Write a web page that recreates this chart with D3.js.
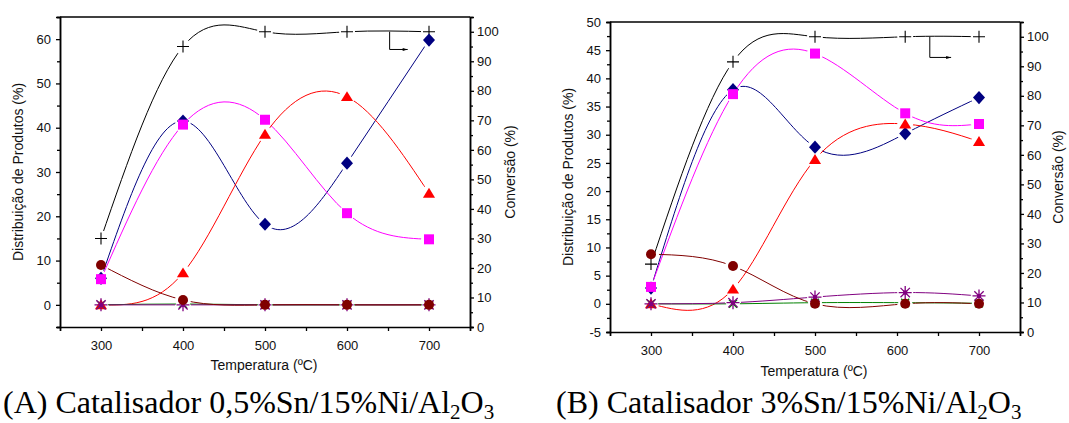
<!DOCTYPE html>
<html>
<head>
<meta charset="utf-8">
<script src="https://cdn.jsdelivr.net/npm/d3@7"></script>
<style>
  html, body { margin: 0; padding: 0; background: #fff; }
  svg { display: block; }
  text { font-family: "Liberation Sans", Arial, sans-serif; fill: #111; }
  .cap { font-family: "Liberation Serif", "Times New Roman", serif; fill: #000; }
</style>
</head>
<body>
<svg id="fig" width="1069" height="423"></svg>
<script>
// ---- Panel A: 0,5%Sn/15%Ni/Al2O3 ----
const tempA      = [300, 400, 500, 600, 700];
const convA      = [30, 95, 100, 100, 100];        // Conversão (%)
const diamondA   = [6, 41.5, 18.2, 32, 59.8];
const squareA    = [5.8, 40.7, 41.8, 20.7, 14.8];
const triangleA  = [0, 7.2, 38.5, 47, 25.2];
const circleA    = [9, 1.1, 0, 0, 0];
const greenA     = [0, 0.2, 0, 0, 0];
const asteriskA  = [0, 0, 0, 0, 0];

// ---- Panel B: 3%Sn/15%Ni/Al2O3 ----
const tempB      = [300, 400, 500, 610, 700];
const convB      = [23, 91.5, 100, 100, 100];
const diamondB   = [2.8, 38, 27.8, 30.2, 36.6];
const squareB    = [3, 37.2, 44.4, 33.8, 31.9];
const triangleB  = [0, 2.6, 25.6, 31.9, 28.8];
const circleB    = [8.8, 6.7, 0, 0, 0];
const greenB     = [0, 0, 0.2, 0.2, 0.1];
const asteriskB  = [0, 0.2, 1.2, 2.0, 1.4];

// axis ticks
const xTickLabels   = [300, 400, 500, 600, 700];
const yTicksA       = [0, 10, 20, 30, 40, 50, 60];
const yTicksB       = [-5, 0, 5, 10, 15, 20, 25, 30, 35, 40, 45, 50];
const convTicks     = [0, 10, 20, 30, 40, 50, 60, 70, 80, 90, 100];

const captionA = ["(A) Catalisador 0,5%Sn/15%Ni/Al", "2", "O", "3"];
const captionB = ["(B) Catalisador 3%Sn/15%Ni/Al", "2", "O", "3"];
const yTitle = "Distribuição de Produtos (%)";
const y2Title = "Conversão (%)";
const xTitle = "Temperatura (ºC)";

const svg = d3.select("#fig");
const defs = svg.append("defs");
defs.append("marker")
  .attr("id", "arrowHead")
  .attr("viewBox", "0 0 10 10")
  .attr("refX", 10).attr("refY", 5)
  .attr("markerWidth", 10).attr("markerHeight", 5)
  .attr("markerUnits", "userSpaceOnUse")
  .attr("orient", "auto")
  .append("path").attr("d", "M0,2 L10,5 L0,8 Z").attr("fill", "#000");

let maskCount = 0;

function symbolPath(kind, s) {
  const h = s / 2;
  switch (kind) {
    case "diamond": return `M0,${-h*1.1}L${h},0L0,${h*1.1}L${-h},0Z`;
    case "square": return `M${-h},${-h}H${h}V${h}H${-h}Z`;
    case "triangle": return `M0,${-h}L${h*1.1},${h*0.8}H${-h*1.1}Z`;
    case "plus": return `M${-h},0H${h}M0,${-h}V${h}`;
    case "cross": return `M${-h},${-h}L${h},${h}M${h},${-h}L${-h},${h}`;
    case "asterisk": {
      const d = h * 0.72;
      return `M${-h},0H${h}M0,${-h}V${h}M${-d},${-d}L${d},${d}M${d},${-d}L${-d},${d}`;
    }
  }
}

function panel(cfg) {
  const g = svg.append("g");
  const x = d3.scaleLinear().domain([250, 750]).range([cfg.left, cfg.right]);
  const y = d3.scaleLinear().domain(cfg.yDomain).range([cfg.bottom, cfg.top]);
  const y2 = d3.scaleLinear().domain([0, 105]).range([cfg.bottom, cfg.top]);

  // axes
  const xAxis = d3.axisBottom(x).tickValues(d3.range(250, 751, 50))
    .tickSize(4).tickFormat(d => xTickLabels.includes(d) ? d : "");
  const gx = g.append("g").attr("transform", `translate(0,${cfg.bottom})`).call(xAxis);

  const yAxis = d3.axisLeft(y).tickValues(cfg.yTicks).tickSize(4).tickFormat(d => d);
  const gy = g.append("g").attr("transform", `translate(${cfg.left},0)`).call(yAxis);
  const yMinor = d3.axisLeft(y).tickValues(cfg.yMinor).tickSize(3).tickFormat("");
  const gym = g.append("g").attr("transform", `translate(${cfg.left},0)`).call(yMinor);

  const y2Axis = d3.axisRight(y2).tickValues(convTicks).tickSize(4).tickFormat(d => d);
  const gy2 = g.append("g").attr("transform", `translate(${cfg.right},0)`).call(y2Axis);
  const y2Minor = d3.axisRight(y2).tickValues(d3.range(5, 105, 10)).tickSize(3).tickFormat("");
  const gy2m = g.append("g").attr("transform", `translate(${cfg.right},0)`).call(y2Minor);

  [gx, gy, gym, gy2, gy2m].forEach(a => {
    a.select(".domain").attr("stroke", "#000").attr("stroke-width", 1.5);
    a.selectAll(".tick line").attr("stroke", "#000").attr("stroke-width", 1.3);
    a.selectAll("text").attr("font-size", 13)
      .attr("font-family", "Liberation Sans, Arial, sans-serif").attr("fill", "#111");
  });
  gx.selectAll("text").attr("dy", "1.25em");
  gy.selectAll("text").attr("x", -9);
  gy2.selectAll("text").attr("x", 7);

  // top frame line
  g.append("line").attr("x1", cfg.left).attr("x2", cfg.right)
    .attr("y1", cfg.top).attr("y2", cfg.top)
    .attr("stroke", "#000").attr("stroke-width", 1.5);

  // titles
  g.append("text").attr("x", (cfg.left + cfg.right) / 2 - 1).attr("y", cfg.xTitleY)
    .attr("text-anchor", "middle").attr("font-size", 14).text(xTitle);
  g.append("text")
    .attr("transform", `translate(${cfg.yTitleX},${(cfg.top + cfg.bottom) / 2}) rotate(-90)`)
    .attr("text-anchor", "middle").attr("font-size", 14).text(yTitle);
  g.append("text")
    .attr("transform", `translate(${cfg.y2TitleX},${(cfg.top + cfg.bottom) / 2}) rotate(-90)`)
    .attr("text-anchor", "middle").attr("font-size", 14).text(y2Title);

  const temps = cfg.temps;
  const series = [
    { vals: cfg.conv, scale: y2, color: "#000", kind: "plus", size: 12, fill: "none", gap: 8 },
    { vals: cfg.diamond, scale: y, color: "#000080", kind: "diamond", size: 12, fill: "#000080", gap: 8 },
    { vals: cfg.square, scale: y, color: "#ff00ff", kind: "square", size: 10, fill: "#ff00ff", gap: 8 },
    { vals: cfg.triangle, scale: y, color: "#ff0000", kind: "triangle", size: 11, fill: "#ff0000", gap: 8 },
    { vals: cfg.green, scale: y, color: "#008000", kind: "cross", size: 8, fill: "none", gap: 7 },
    { vals: cfg.asterisk, scale: y, color: "#800080", kind: "asterisk", size: 13, fill: "none", gap: 8 },
    { vals: cfg.circle, scale: y, color: "#800000", kind: "circle", size: 10, fill: "#800000", gap: 8 }
  ];

  series.forEach(s => {
    const pts = temps.map((t, i) => [x(t), s.scale(s.vals[i])]);
    // the connecting spline stops short of each symbol
    const id = "gap" + (maskCount++);
    const m = defs.append("mask").attr("id", id).attr("maskUnits", "userSpaceOnUse")
      .attr("x", 0).attr("y", 0).attr("width", 1069).attr("height", 423);
    m.append("rect").attr("width", 1069).attr("height", 423).attr("fill", "#fff");
    m.selectAll("circle").data(pts).join("circle")
      .attr("cx", d => d[0]).attr("cy", d => d[1]).attr("r", s.gap).attr("fill", "#000");

    g.append("path").datum(pts)
      .attr("d", d3.line().curve(d3.curveNatural))
      .attr("fill", "none").attr("stroke", s.color).attr("stroke-width", 1)
      .attr("mask", `url(#${id})`);

    const mk = g.append("g");
    pts.forEach(p => {
      if (s.kind === "circle") {
        mk.append("circle").attr("cx", p[0]).attr("cy", p[1]).attr("r", s.size / 2)
          .attr("fill", s.fill);
      } else if (s.kind === "plus" || s.kind === "cross" || s.kind === "asterisk") {
        mk.append("path").attr("transform", `translate(${p[0]},${p[1]})`)
          .attr("d", symbolPath(s.kind, s.size))
          .attr("fill", "none").attr("stroke", s.color).attr("stroke-width", s.kind === "plus" ? 1.1 : 1.3);
        if (s.kind === "asterisk") {
          mk.append("rect").attr("x", p[0] - 2).attr("y", p[1] - 2)
            .attr("width", 4).attr("height", 4).attr("fill", s.color);
        }
      } else {
        mk.append("path").attr("transform", `translate(${p[0]},${p[1]})`)
          .attr("d", symbolPath(s.kind, s.size)).attr("fill", s.fill);
      }
    });
  });

  // arrow pointing the conversion curve to the right axis
  const a = cfg.arrow;
  g.append("path")
    .attr("d", `M${x(a[0])},${y2(a[1])}V${y2(a[2])}H${x(a[3])}`)
    .attr("fill", "none").attr("stroke", "#000").attr("stroke-width", 1)
    .attr("marker-end", "url(#arrowHead)");

  // caption
  const c = cfg.caption;
  const cap = svg.append("text").attr("class", "cap").attr("x", cfg.capX).attr("y", 413)
    .attr("font-size", 32);
  cap.append("tspan").text(c[0]);
  cap.append("tspan").attr("font-size", 21).attr("dy", 6).text(c[1]);
  cap.append("tspan").attr("dy", -6).text(c[2]);
  cap.append("tspan").attr("font-size", 21).attr("dy", 6).text(c[3]);
}

panel({
  left: 60, right: 470, top: 17, bottom: 327,
  yDomain: [-5, 65], yTicks: yTicksA, yMinor: d3.range(-5, 66, 10),
  temps: tempA, conv: convA, diamond: diamondA, square: squareA, triangle: triangleA,
  circle: circleA, green: greenA, asterisk: asteriskA,
  xTitleY: 370, yTitleX: 23, y2TitleX: 515,
  arrow: [652, 100, 94, 674],
  caption: captionA, capX: 3
});

panel({
  left: 610, right: 1020, top: 22, bottom: 332,
  yDomain: [-5, 50], yTicks: yTicksB, yMinor: d3.range(-2.5, 50, 5),
  temps: tempB, conv: convB, diamond: diamondB, square: squareB, triangle: triangleB,
  circle: circleB, green: greenB, asterisk: asteriskB,
  xTitleY: 376, yTitleX: 573, y2TitleX: 1063,
  arrow: [640, 100, 93, 666],
  caption: captionB, capX: 556
});
</script>
</body>
</html>
